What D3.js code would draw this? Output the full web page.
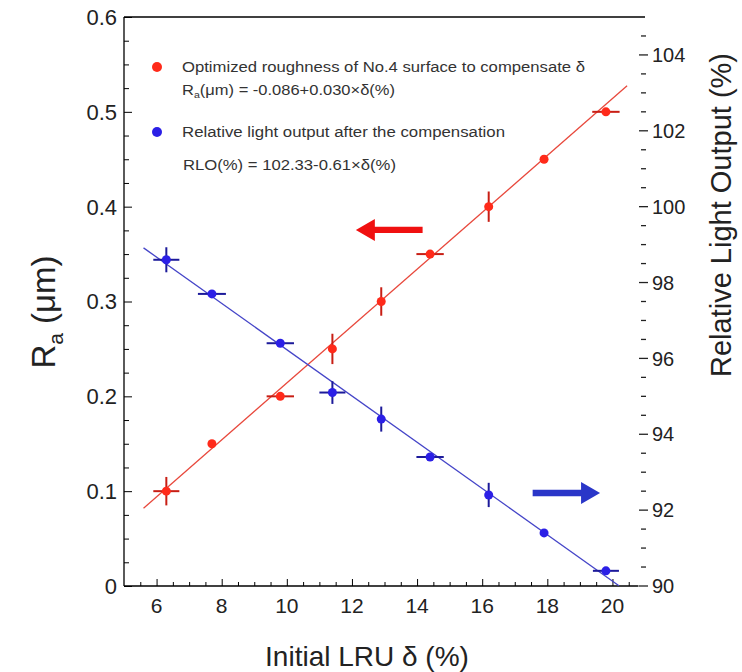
<!DOCTYPE html>
<html><head><meta charset="utf-8">
<script src="https://cdn.jsdelivr.net/npm/d3@7"></script>
<style>body{margin:0;background:#fff}svg{display:block;font-family:"Liberation Sans",Arial,sans-serif}</style>
</head><body><svg id="c" width="742" height="672"></svg>
<script>
// ---- data ----
const delta = [6.3, 7.7, 9.8, 11.4, 12.9, 14.4, 16.2, 17.9, 19.8];
const raValues = [0.10, 0.15, 0.20, 0.25, 0.30, 0.35, 0.40, 0.45, 0.50];
const raXErr = [0.4, 0, 0.42, 0, 0, 0.42, 0, 0, 0.42];
const raYErr = [0.015, 0, 0, 0.016, 0.015, 0, 0.016, 0, 0];
const rloValues = [98.6, 97.7, 96.4, 95.1, 94.4, 93.4, 92.4, 91.4, 90.4];
const rloXErr = [0.4, 0.43, 0.42, 0.4, 0, 0.42, 0, 0, 0.4];
const rloYErr = [0.33, 0, 0, 0.3, 0.33, 0, 0.32, 0, 0];
const xTicks = [6, 8, 10, 12, 14, 16, 18, 20];
const yLeftTicks = [0, 0.1, 0.2, 0.3, 0.4, 0.5, 0.6];
const yRightTicks = [90, 92, 94, 96, 98, 100, 102, 104];
const raFit = {a: -0.086, b: 0.030, from: 5.6, to: 20.45};
const rloFit = {a: 102.33, b: -0.61, from: 5.6, to: 20.2};
const legendLines = [
  "Optimized roughness of No.4 surface to compensate δ",
  "Relative light output after the compensation"
];

const svg = d3.select("#c");
const x = d3.scaleLinear().domain([5, 21]).range([124, 645]);
const yL = d3.scaleLinear().domain([0, 0.6]).range([586, 17]);
const yR = d3.scaleLinear().domain([90, 105]).range([586, 17]);
const RED = "#ff2a1a", BLUE = "#2b1fe6";

// frame
const g = svg.append("g");
g.append("line").attr("x1", x(5)).attr("x2", x(21)).attr("y1", yL(0.6)).attr("y2", yL(0.6)).attr("stroke", "#000").attr("stroke-width", 1.3);
g.append("line").attr("x1", x(5)).attr("x2", x(20.8)).attr("y1", yL(0)).attr("y2", yL(0)).attr("stroke", "#000").attr("stroke-width", 1.3);
g.append("line").attr("x1", x(5)).attr("x2", x(5)).attr("y1", yL(0)).attr("y2", yL(0.6)).attr("stroke", "#000").attr("stroke-width", 1.3);

// left axis (ticks inward)
const leftAxis = d3.axisRight(yL).tickValues(yLeftTicks).tickSize(8).tickFormat("");
const la = svg.append("g").attr("transform", `translate(${x(5)},0)`).call(leftAxis);
la.select(".domain").remove();
la.selectAll("line").attr("stroke", "#000");
const leftMinor = d3.range(0, 0.6001, 0.025).filter(v => Math.abs(v * 10 - Math.round(v * 10)) > 1e-6);
const lm = svg.append("g").attr("transform", `translate(${x(5)},0)`).call(d3.axisRight(yL).tickValues(leftMinor).tickSize(5).tickFormat(""));
lm.select(".domain").remove(); lm.selectAll("line").attr("stroke", "#000");
svg.append("g").selectAll("text").data(yLeftTicks).join("text")
  .attr("x", 117).attr("y", d => yL(d)).attr("dy", "0.36em").attr("text-anchor", "end")
  .attr("font-size", 22).attr("fill", "#222").text(d => d === 0 ? "0" : d3.format(".1f")(d));

// bottom axis (ticks inward)
const ba = svg.append("g").attr("transform", `translate(0,${yL(0)})`).call(d3.axisTop(x).tickValues(xTicks).tickSize(7).tickFormat(""));
ba.select(".domain").remove(); ba.selectAll("line").attr("stroke", "#000");
const bottomMinor = d3.range(5.5, 21, 0.5).filter(v => v % 2 !== 0);
const bm = svg.append("g").attr("transform", `translate(0,${yL(0)})`).call(d3.axisTop(x).tickValues(bottomMinor).tickSize(4).tickFormat(""));
bm.select(".domain").remove(); bm.selectAll("line").attr("stroke", "#000");
svg.append("g").selectAll("text").data(xTicks).join("text")
  .attr("x", d => x(d)).attr("y", 613).attr("text-anchor", "middle")
  .attr("font-size", 21).attr("fill", "#222").text(d => d);

// right axis: dashes only
const rMinor = d3.range(90.5, 105, 0.5).filter(v => v % 2 !== 0);
svg.append("g").selectAll("line").data(rMinor).join("line")
  .attr("x1", 641).attr("x2", 646).attr("y1", d => yR(d)).attr("y2", d => yR(d)).attr("stroke", "#222").attr("stroke-width", 1.3);
svg.append("g").selectAll("line").data(yRightTicks).join("line")
  .attr("x1", 639).attr("x2", 648).attr("y1", d => yR(d)).attr("y2", d => yR(d)).attr("stroke", "#222").attr("stroke-width", 1.3);
svg.append("g").selectAll("text").data(yRightTicks).join("text")
  .attr("x", 652).attr("y", d => yR(d)).attr("dy", "0.36em").attr("text-anchor", "start")
  .attr("font-size", 20).attr("fill", "#222").text(d => d);

// axis titles
svg.append("text").attr("x", 367).attr("y", 666).attr("text-anchor", "middle").attr("font-size", 28).attr("fill", "#222").text("Initial LRU δ (%)");
const yt = svg.append("text").attr("transform", "translate(55,312) rotate(-90)").attr("text-anchor", "middle").attr("font-size", 33).attr("fill", "#222");
yt.append("tspan").text("R");
yt.append("tspan").attr("font-size", 21).attr("dy", 8).text("a");
yt.append("tspan").attr("dy", -8).text(" (μm)");
svg.append("text").attr("transform", "translate(731,215) rotate(-90)").attr("text-anchor", "middle").attr("font-size", 29).attr("fill", "#222").text("Relative Light Output (%)");

// fit lines
const raLine = d3.line().x(d => x(d)).y(d => yL(raFit.a + raFit.b * d));
svg.append("path").attr("d", raLine([raFit.from, raFit.to])).attr("stroke", "#e8483c").attr("stroke-width", 1.3).attr("fill", "none");
const rloLine = d3.line().x(d => x(d)).y(d => yR(rloFit.a + rloFit.b * d));
svg.append("path").attr("d", rloLine([rloFit.from, rloFit.to])).attr("stroke", "#4545c8").attr("stroke-width", 1.3).attr("fill", "none");

// series drawing
function drawSeries(ys, yScale, xe, ye, fill, errColor) {
  const gg = svg.append("g");
  delta.forEach((d, i) => {
    if (xe[i] > 0) gg.append("line").attr("x1", x(d - xe[i])).attr("x2", x(d + xe[i])).attr("y1", yScale(ys[i])).attr("y2", yScale(ys[i])).attr("stroke", errColor).attr("stroke-width", 2);
    if (ye[i] > 0) gg.append("line").attr("x1", x(d)).attr("x2", x(d)).attr("y1", yScale(ys[i] - ye[i])).attr("y2", yScale(ys[i] + ye[i])).attr("stroke", errColor).attr("stroke-width", 2);
  });
  gg.selectAll("circle").data(delta).join("circle")
    .attr("cx", d => x(d)).attr("cy", (d, i) => yScale(ys[i])).attr("r", 4.5).attr("fill", fill);
}
drawSeries(raValues, yL, raXErr, raYErr, RED, "#c81e14");
drawSeries(rloValues, yR, rloXErr, rloYErr, BLUE, "#1c1a9a");

// arrows
function arrow(x1, x2, yv, color) {
  const dir = Math.sign(x2 - x1);
  const headLen = 19, headHalf = 11, shaft = 3.2;
  const hx = x2 - dir * headLen;
  const pts = [[x1, yv - shaft], [hx, yv - shaft], [hx, yv - headHalf], [x2, yv], [hx, yv + headHalf], [hx, yv + shaft], [x1, yv + shaft]];
  svg.append("path").attr("d", d3.line()(pts) + "Z").attr("fill", color);
}
arrow(x(14.17), x(12.12), yL(0.3755), "#f01010");
arrow(x(17.55), x(19.62), yR(92.45), "#2a36c8");

// legend
svg.append("circle").attr("cx", 157).attr("cy", 67).attr("r", 5).attr("fill", RED);
svg.append("circle").attr("cx", 157).attr("cy", 132).attr("r", 5).attr("fill", BLUE);
const lg = svg.append("g").attr("font-size", 14).attr("fill", "#333");
lg.append("text").attr("x", 182).attr("y", 72).attr("textLength", 403).attr("lengthAdjust", "spacingAndGlyphs").text(legendLines[0]);
const eq1 = lg.append("text").attr("x", 182).attr("y", 95).attr("textLength", 213).attr("lengthAdjust", "spacingAndGlyphs");
eq1.append("tspan").text("R");
eq1.append("tspan").attr("font-size", 9).attr("dy", 3).text("a");
eq1.append("tspan").attr("dy", -3).text("(μm) = -0.086+0.030×δ(%)");
lg.append("text").attr("x", 182).attr("y", 137).attr("textLength", 323).attr("lengthAdjust", "spacingAndGlyphs").text(legendLines[1]);
lg.append("text").attr("x", 183).attr("y", 170).attr("textLength", 213).attr("lengthAdjust", "spacingAndGlyphs").text("RLO(%) = 102.33-0.61×δ(%)");
</script></body></html>
